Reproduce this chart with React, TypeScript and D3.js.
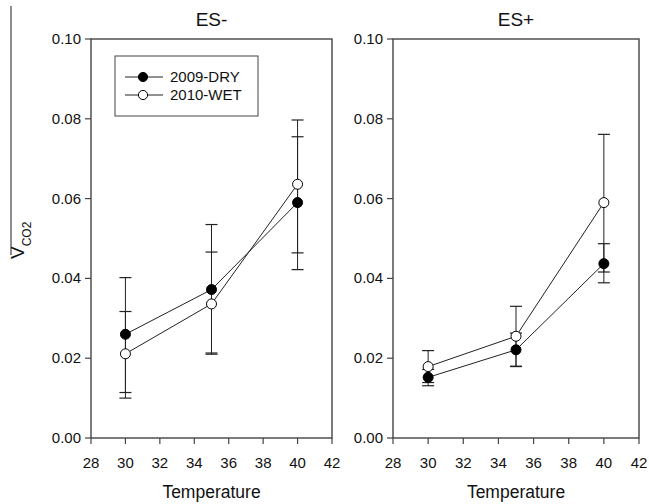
import React from "react";
import * as d3 from "d3";

const temps = [30, 35, 40];
const xTicks = [28, 30, 32, 34, 36, 38, 40, 42];
const yTicks = [0, 0.02, 0.04, 0.06, 0.08, 0.1];
const seriesNames = ["2009-DRY", "2010-WET"];
const panelTitles = ["ES-", "ES+"];

// ES- panel
const esMinusDry = [0.026, 0.0372, 0.059];
const esMinusDryLo = [0.0114, 0.021, 0.0422];
const esMinusDryHi = [0.0317, 0.0466, 0.0755];
const esMinusWet = [0.0211, 0.0336, 0.0636];
const esMinusWetLo = [0.01, 0.0213, 0.0464];
const esMinusWetHi = [0.0402, 0.0535, 0.0797];

// ES+ panel
const esPlusDry = [0.0152, 0.0221, 0.0437];
const esPlusDryLo = [0.0131, 0.0179, 0.0389];
const esPlusDryHi = [0.0172, 0.0263, 0.0487];
const esPlusWet = [0.0179, 0.0255, 0.059];
const esPlusWetLo = [0.0139, 0.018, 0.0416];
const esPlusWetHi = [0.0219, 0.033, 0.0761];

const FONT = "'Liberation Sans', Arial, sans-serif";
const INK = "#222";
const AXIS = "#444";

type Series = { v: number[]; lo: number[]; hi: number[]; filled: boolean };

function Panel({ x0, x1, title, series, legend }: { x0: number; x1: number; title: string; series: Series[]; legend?: boolean }) {
  const top = 39;
  const bottom = 438;
  const x = d3.scaleLinear().domain([28, 42]).range([x0, x1]);
  const y = d3.scaleLinear().domain([0, 0.1]).range([bottom, top]);
  const line = d3.line<number>().x((_, i) => x(temps[i])).y((d) => y(d));
  const cx = (x0 + x1) / 2;
  return (
    <g>
      <text x={cx} y={26} textAnchor="middle" fontSize={19} fontFamily={FONT} fill="#111">{title}</text>
      <rect x={x0} y={top} width={x1 - x0} height={bottom - top} fill="none" stroke={AXIS} strokeWidth={1.4} />
      {yTicks.map((t) => (
        <g key={"y" + t}>
          <line x1={x0 - 6} x2={x0} y1={y(t)} y2={y(t)} stroke={AXIS} strokeWidth={1.2} />
          <text x={x0 - 10} y={y(t) + 5} textAnchor="end" fontSize={15} fontFamily={FONT} fill="#111">{t.toFixed(2)}</text>
        </g>
      ))}
      {xTicks.map((t) => (
        <g key={"x" + t}>
          <line x1={x(t)} x2={x(t)} y1={bottom} y2={bottom + 6} stroke={AXIS} strokeWidth={1.2} />
          <text x={x(t)} y={468} textAnchor="middle" fontSize={15} fontFamily={FONT} fill="#111">{t}</text>
        </g>
      ))}
      <text x={cx} y={498} textAnchor="middle" fontSize={17.5} fontFamily={FONT} fill="#111">Temperature</text>
      {series.map((s, si) => (
        <g key={"e" + si}>
          {temps.map((t, i) => (
            <g key={i}>
              <line x1={x(t)} x2={x(t)} y1={y(s.lo[i])} y2={y(s.hi[i])} stroke={INK} strokeWidth={1} />
              <line x1={x(t) - 6} x2={x(t) + 6} y1={y(s.lo[i])} y2={y(s.lo[i])} stroke={INK} strokeWidth={1.2} />
              <line x1={x(t) - 6} x2={x(t) + 6} y1={y(s.hi[i])} y2={y(s.hi[i])} stroke={INK} strokeWidth={1.2} />
            </g>
          ))}
        </g>
      ))}
      {series.map((s, si) => (
        <path key={"l" + si} d={line(s.v) || ""} fill="none" stroke={INK} strokeWidth={1} />
      ))}
      {series.map((s, si) => (
        <g key={"m" + si}>
          {temps.map((t, i) => (
            <circle key={i} cx={x(t)} cy={y(s.v[i])} r={5} fill={s.filled ? "#000" : "#fff"} stroke="#000" strokeWidth={1} />
          ))}
        </g>
      ))}
      {legend && (
        <g>
          <rect x={115} y={56} width={143} height={60} fill="#fff" stroke={AXIS} strokeWidth={1} />
          {seriesNames.map((n, i) => (
            <g key={n}>
              <line x1={125} x2={163} y1={77 + i * 18} y2={77 + i * 18} stroke={INK} strokeWidth={1} />
              <circle cx={143} cy={77 + i * 18} r={4.6} fill={i === 0 ? "#000" : "#fff"} stroke="#000" strokeWidth={1} />
              <text x={170} y={82 + i * 18} fontSize={15} fontFamily={FONT} fill="#111">{n}</text>
            </g>
          ))}
        </g>
      )}
    </g>
  );
}

export default function App() {
  const left: Series[] = [
    { v: esMinusDry, lo: esMinusDryLo, hi: esMinusDryHi, filled: true },
    { v: esMinusWet, lo: esMinusWetLo, hi: esMinusWetHi, filled: false },
  ];
  const right: Series[] = [
    { v: esPlusDry, lo: esPlusDryLo, hi: esPlusDryHi, filled: true },
    { v: esPlusWet, lo: esPlusWetLo, hi: esPlusWetHi, filled: false },
  ];
  return (
    <svg width={649} height={504} style={{ position: "absolute", left: 0, top: 0, background: "#fff" }}>
      <rect width={649} height={504} fill="#fff" />
      <line x1={11} x2={11} y1={6} y2={255} stroke={AXIS} strokeWidth={1.2} />
      <text transform="translate(24,259) rotate(-90)" fontFamily={FONT} fill="#111">
        <tspan fontSize={19}>V</tspan>
        <tspan fontSize={12} dy={7}>CO2</tspan>
      </text>
      <Panel x0={91} x1={332} title={panelTitles[0]} series={left} legend />
      <Panel x0={393} x1={639} title={panelTitles[1]} series={right} />
    </svg>
  );
}
